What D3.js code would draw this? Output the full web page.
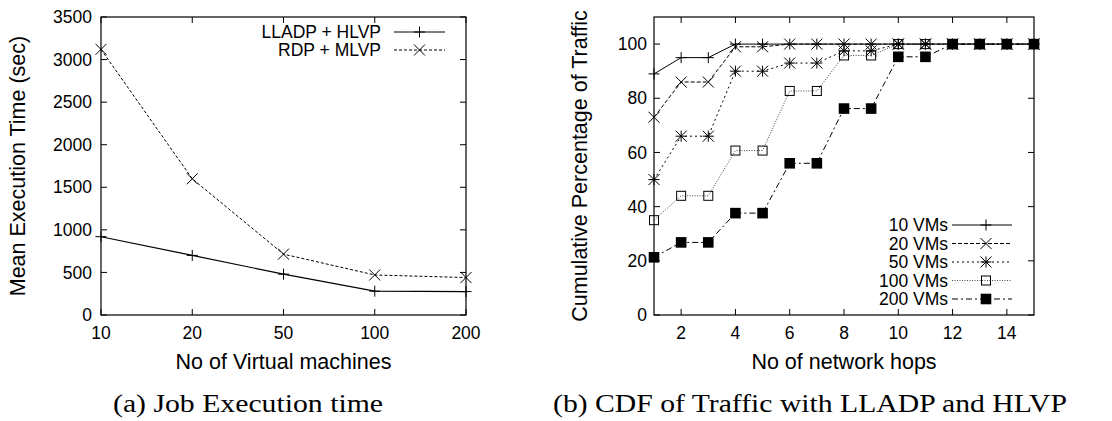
<!DOCTYPE html>
<html><head><meta charset="utf-8">
<script src="https://cdn.jsdelivr.net/npm/d3@7"></script>
<style>
html,body{margin:0;padding:0;background:#fff;}
svg{display:block;}
text{font-family:"Liberation Sans",Arial,Helvetica,sans-serif;fill:#000;}
.cap{font-family:"Liberation Serif","Times New Roman",serif;}
</style></head>
<body>
<svg id="c" width="1112" height="421"></svg>
<script>
// ---- data: chart (a) ----
const vmCategories = ["10", "20", "50", "100", "200"];
const lladpHlvp = [920, 700, 480, 280, 275];
const rdpMlvp = [3120, 1600, 715, 470, 440];
const execTicks = [0, 500, 1000, 1500, 2000, 2500, 3000, 3500];
const seriesA = ["LLADP + HLVP", "RDP + MLVP"];

// ---- data: chart (b) ----
const hops = [1, 2, 3, 4, 5, 6, 7, 8, 9, 10, 11, 12, 13, 14, 15];
const vms10 = [89, 95, 95, 100, 100, 100, 100, 100, 100, 100, 100, 100, 100, 100, 100];
const vms20 = [73, 86, 86, 99, 99, 100, 100, 100, 100, 100, 100, 100, 100, 100, 100];
const vms50 = [50, 66, 66, 90, 90, 93, 93, 97.5, 97.5, 100, 100, 100, 100, 100, 100];
const vms100 = [35, 44, 44, 60.7, 60.7, 82.7, 82.7, 95.8, 95.8, 100, 100, 100, 100, 100, 100];
const vms200 = [21.3, 26.8, 26.8, 37.6, 37.6, 56, 56, 76.2, 76.2, 95.3, 95.3, 100, 100, 100, 100];
const hopTicks = [2, 4, 6, 8, 10, 12, 14];
const pctTicks = [0, 20, 40, 60, 80, 100];
const seriesB = ["10 VMs", "20 VMs", "50 VMs", "100 VMs", "200 VMs"];

const svg = d3.select("#c");

function marker(g, type, x, y) {
  const s = 5.5;
  if (type === "plus") {
    g.append("path").attr("d", `M${x-s},${y}L${x+s},${y}M${x},${y-s}L${x},${y+s}`)
      .attr("stroke", "#000").attr("stroke-width", 1).attr("fill", "none");
  } else if (type === "cross") {
    g.append("path").attr("d", `M${x-s},${y-s}L${x+s},${y+s}M${x-s},${y+s}L${x+s},${y-s}`)
      .attr("stroke", "#000").attr("stroke-width", 1).attr("fill", "none");
  } else if (type === "star") {
    g.append("path").attr("d", `M${x-s},${y}L${x+s},${y}M${x},${y-s}L${x},${y+s}M${x-s},${y-s}L${x+s},${y+s}M${x-s},${y+s}L${x+s},${y-s}`)
      .attr("stroke", "#000").attr("stroke-width", 1).attr("fill", "none");
  } else if (type === "box") {
    g.append("rect").attr("x", x-4.5).attr("y", y-4.5).attr("width", 9).attr("height", 9)
      .attr("stroke", "#000").attr("stroke-width", 1).attr("fill", "none");
  } else if (type === "fbox") {
    g.append("rect").attr("x", x-5.3).attr("y", y-5.3).attr("width", 10.6).attr("height", 10.6)
      .attr("fill", "#000");
  }
}

function frame(g, x0, x1, y0, y1) {
  g.append("rect").attr("x", x0).attr("y", y0).attr("width", x1-x0).attr("height", y1-y0)
    .attr("fill", "none").attr("stroke", "#000").attr("stroke-width", 1.2);
}

const tickFont = 17.5, titleFont = 21.5, legFont = 17.5, capFont = 25;

// ================= Chart (a) =================
{
  const L = 101, R = 466, T = 17, B = 315, tk = 6;
  const x = d3.scalePoint().domain(vmCategories).range([L, R]);
  const y = d3.scaleLinear().domain([0, 3500]).range([B, T]);
  const g = svg.append("g");

  const tg = g.append("g").attr("stroke", "#000").attr("stroke-width", 1);
  execTicks.forEach(v => {
    tg.append("line").attr("x1", L).attr("x2", L+tk).attr("y1", y(v)).attr("y2", y(v));
    tg.append("line").attr("x1", R).attr("x2", R-tk).attr("y1", y(v)).attr("y2", y(v));
  });
  vmCategories.forEach(c => {
    tg.append("line").attr("x1", x(c)).attr("x2", x(c)).attr("y1", B).attr("y2", B-tk);
    tg.append("line").attr("x1", x(c)).attr("x2", x(c)).attr("y1", T).attr("y2", T+tk);
  });

  execTicks.forEach(v => {
    g.append("text").attr("x", L-9).attr("y", y(v)).attr("dy", "0.35em")
      .attr("text-anchor", "end").attr("font-size", tickFont).text(v);
  });
  vmCategories.forEach(c => {
    g.append("text").attr("x", x(c)).attr("y", B+18).attr("dy", "0.35em")
      .attr("text-anchor", "middle").attr("font-size", tickFont).text(c);
  });

  g.append("text").attr("transform", `translate(17,${(T+B)/2}) rotate(-90)`)
    .attr("dy", "0.35em").attr("text-anchor", "middle").attr("font-size", titleFont)
    .text("Mean Execution Time (sec)");
  g.append("text").attr("x", (L+R)/2).attr("y", 361).attr("dy", "0.35em")
    .attr("text-anchor", "middle").attr("font-size", titleFont).text("No of Virtual machines");

  const line = d3.line().x((d, i) => x(vmCategories[i])).y(d => y(d));
  g.append("path").datum(lladpHlvp).attr("d", line).attr("fill", "none")
    .attr("stroke", "#000").attr("stroke-width", 1.1);
  g.append("path").datum(rdpMlvp).attr("d", line).attr("fill", "none")
    .attr("stroke", "#000").attr("stroke-width", 1).attr("stroke-dasharray", "3,2");
  lladpHlvp.forEach((v, i) => marker(g, "plus", x(vmCategories[i]), y(v)));
  rdpMlvp.forEach((v, i) => marker(g, "cross", x(vmCategories[i]), y(v)));

  const legY = [32, 50];
  const styles = [{dash: null, m: "plus"}, {dash: "3,2", m: "cross"}];
  seriesA.forEach((name, i) => {
    g.append("text").attr("x", 381).attr("y", legY[i]).attr("dy", "0.35em")
      .attr("text-anchor", "end").attr("font-size", legFont).text(name);
    const ln = g.append("line").attr("x1", 394).attr("x2", 445).attr("y1", legY[i]).attr("y2", legY[i])
      .attr("stroke", "#000").attr("stroke-width", 1);
    if (styles[i].dash) ln.attr("stroke-dasharray", styles[i].dash);
    marker(g, styles[i].m, 419.5, legY[i]);
  });

  frame(g, L, R, T, B);

  g.append("text").attr("class", "cap").attr("x", 248).attr("y", 403).attr("dy", "0.35em")
    .attr("text-anchor", "middle").attr("font-size", capFont)
    .attr("textLength", 270).attr("lengthAdjust", "spacingAndGlyphs")
    .text("(a) Job Execution time");
}

// ================= Chart (b) =================
{
  const L = 654, R = 1034, T = 17, B = 315, tk = 6;
  const x = d3.scaleLinear().domain([1, 15]).range([L, R]);
  const y = d3.scaleLinear().domain([0, 110]).range([B, T]);
  const g = svg.append("g");

  const tg = g.append("g").attr("stroke", "#000").attr("stroke-width", 1);
  pctTicks.forEach(v => {
    tg.append("line").attr("x1", L).attr("x2", L+tk).attr("y1", y(v)).attr("y2", y(v));
    tg.append("line").attr("x1", R).attr("x2", R-tk).attr("y1", y(v)).attr("y2", y(v));
  });
  hopTicks.forEach(v => {
    tg.append("line").attr("x1", x(v)).attr("x2", x(v)).attr("y1", B).attr("y2", B-tk);
    tg.append("line").attr("x1", x(v)).attr("x2", x(v)).attr("y1", T).attr("y2", T+tk);
  });

  pctTicks.forEach(v => {
    g.append("text").attr("x", L-7).attr("y", y(v)).attr("dy", "0.35em")
      .attr("text-anchor", "end").attr("font-size", tickFont).text(v);
  });
  hopTicks.forEach(v => {
    g.append("text").attr("x", x(v)).attr("y", B+18).attr("dy", "0.35em")
      .attr("text-anchor", "middle").attr("font-size", tickFont).text(v);
  });

  g.append("text").attr("transform", `translate(579,${(T+B)/2}) rotate(-90)`)
    .attr("dy", "0.35em").attr("text-anchor", "middle").attr("font-size", titleFont)
    .text("Cumulative Percentage of Traffic");
  g.append("text").attr("x", (L+R)/2).attr("y", 361).attr("dy", "0.35em")
    .attr("text-anchor", "middle").attr("font-size", titleFont).text("No of network hops");

  const all = [vms10, vms20, vms50, vms100, vms200];
  const styles = [
    {dash: null, m: "plus", c: "#000"},
    {dash: "4,2", m: "cross", c: "#000"},
    {dash: "2,3", m: "star", c: "#000"},
    {dash: "1,1.5", m: "box", c: "#444"},
    {dash: "6,3,2,3", m: "fbox", c: "#000"}
  ];
  const line = d3.line().x((d, i) => x(hops[i])).y(d => y(d));
  all.forEach((s, k) => {
    const p = g.append("path").datum(s).attr("d", line).attr("fill", "none")
      .attr("stroke", styles[k].c).attr("stroke-width", 1);
    if (styles[k].dash) p.attr("stroke-dasharray", styles[k].dash);
  });
  all.forEach((s, k) => {
    s.forEach((v, i) => marker(g, styles[k].m, x(hops[i]), y(v)));
  });

  const legY = [225, 243.5, 262, 280.5, 299];
  seriesB.forEach((name, i) => {
    g.append("text").attr("x", 948).attr("y", legY[i]).attr("dy", "0.35em")
      .attr("text-anchor", "end").attr("font-size", legFont).text(name);
    const ln = g.append("line").attr("x1", 952).attr("x2", 1012).attr("y1", legY[i]).attr("y2", legY[i])
      .attr("stroke", styles[i].c).attr("stroke-width", 1);
    if (styles[i].dash) ln.attr("stroke-dasharray", styles[i].dash);
    marker(g, styles[i].m, 986, legY[i]);
  });

  frame(g, L, R, T, B);

  g.append("text").attr("class", "cap").attr("x", 810).attr("y", 403).attr("dy", "0.35em")
    .attr("text-anchor", "middle").attr("font-size", capFont)
    .attr("textLength", 514).attr("lengthAdjust", "spacingAndGlyphs")
    .text("(b) CDF of Traffic with LLADP and HLVP");
}
</script>
</body></html>
